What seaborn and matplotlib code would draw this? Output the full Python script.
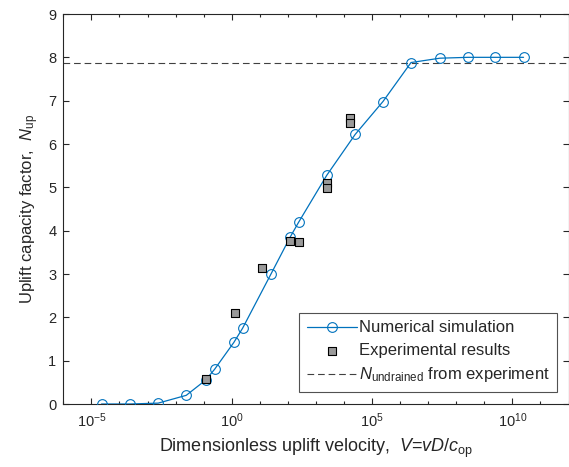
import matplotlib
matplotlib.use("Agg")
import matplotlib.pyplot as plt
import seaborn as sns
import numpy as np
import pandas as pd

# ---- data ----
sim_V = [2.3e-5, 2.3e-4, 2.4e-3, 2.4e-2, 0.117, 0.245, 1.19, 2.45, 25.1, 123,
         240, 2450, 2.5e4, 2.45e5, 2.45e6, 2.6e7, 2.6e8, 2.5e9, 2.5e10]
sim_N = [0.0, 0.0, 0.02, 0.2, 0.55, 0.80, 1.42, 1.75, 3.0, 3.86,
         4.19, 5.28, 6.22, 6.98, 7.88, 7.98, 8.0, 8.0, 8.0]
exp_V = [0.124, 1.26, 12.0, 123, 240, 2450, 2450, 1.66e4, 1.66e4]
exp_N = [0.58, 2.09, 3.15, 3.77, 3.73, 5.1, 4.98, 6.6, 6.49]
N_undrained = 7.86
x_ticks = [1e-5, 1e0, 1e5, 1e10]
y_ticks = [0, 1, 2, 3, 4, 5, 6, 7, 8, 9]

sns.set_theme(style="ticks")
plt.rcParams['font.family'] = ['Liberation Sans', 'DejaVu Sans']
plt.rcParams['mathtext.fontset'] = 'custom'
plt.rcParams['mathtext.rm'] = 'Liberation Sans'
plt.rcParams['mathtext.it'] = 'Liberation Sans:italic'
plt.rcParams['mathtext.default'] = 'regular'

axc = '#262626'
blue = '#0072BD'

fig = plt.figure(figsize=(5.69, 4.67), dpi=100)
ax = fig.add_axes([63.3/569, 63/467, (568.5-63.3)/569, (404-14)/467])

sim_df = pd.DataFrame({'V': sim_V, 'N': sim_N})
exp_df = pd.DataFrame({'V': exp_V, 'N': exp_N})

sns.lineplot(data=sim_df, x='V', y='N', ax=ax, color=blue, lw=0.9,
             marker='o', markersize=7, markerfacecolor='none',
             markeredgecolor=blue, markeredgewidth=0.8,
             label='Numerical simulation', zorder=3, sort=False,
             estimator=None)
sns.scatterplot(data=exp_df, x='V', y='N', ax=ax, marker='s', s=36,
                color='#9a9a9a', edgecolor='black', linewidth=0.8,
                label='Experimental results', zorder=4)
ax.axhline(N_undrained, color='#404040', lw=0.8, linestyle=(0, (6, 3.5)),
           label=r'$\mathit{N}_{\mathregular{undrained}}$ from experiment', zorder=2)

ax.set_xscale('log')
ax.set_xlim(1e-6, 1e12)
ax.set_ylim(0, 9)
ax.set_xticks(x_ticks)
ax.set_yticks(y_ticks)
ax.xaxis.set_minor_locator(matplotlib.ticker.LogLocator(base=10, subs=[1.0], numticks=30))
ax.xaxis.set_minor_formatter(matplotlib.ticker.NullFormatter())

for s in ax.spines.values():
    s.set_color(axc)
    s.set_linewidth(0.8)
ax.tick_params(which='both', direction='in', top=True, right=True,
               colors=axc, labelcolor=axc, labelsize=10.5, width=0.8)
ax.tick_params(which='major', length=4.5, pad=5)
ax.tick_params(which='minor', length=2.5)

ax.set_xlabel(r'Dimensionless uplift velocity,  $\mathit{V}$=$\mathit{vD}$/$\mathit{c}_{\mathregular{op}}$',
              fontsize=13, color=axc, labelpad=5)
ax.set_ylabel(r'Uplift capacity factor,  $\mathit{N}_{\mathregular{up}}$',
              fontsize=12, color=axc, labelpad=5)

leg = ax.legend(loc='lower right', bbox_to_anchor=(0.9772, 0.0308),
                borderaxespad=0, fontsize=12, frameon=True, fancybox=False,
                edgecolor=axc, handlelength=3.0, handletextpad=0.1,
                labelspacing=0.45, borderpad=0.45)
leg.get_frame().set_linewidth(0.8)
for t in leg.get_texts():
    t.set_color(axc)

fig.savefig('out.png', dpi=100)
